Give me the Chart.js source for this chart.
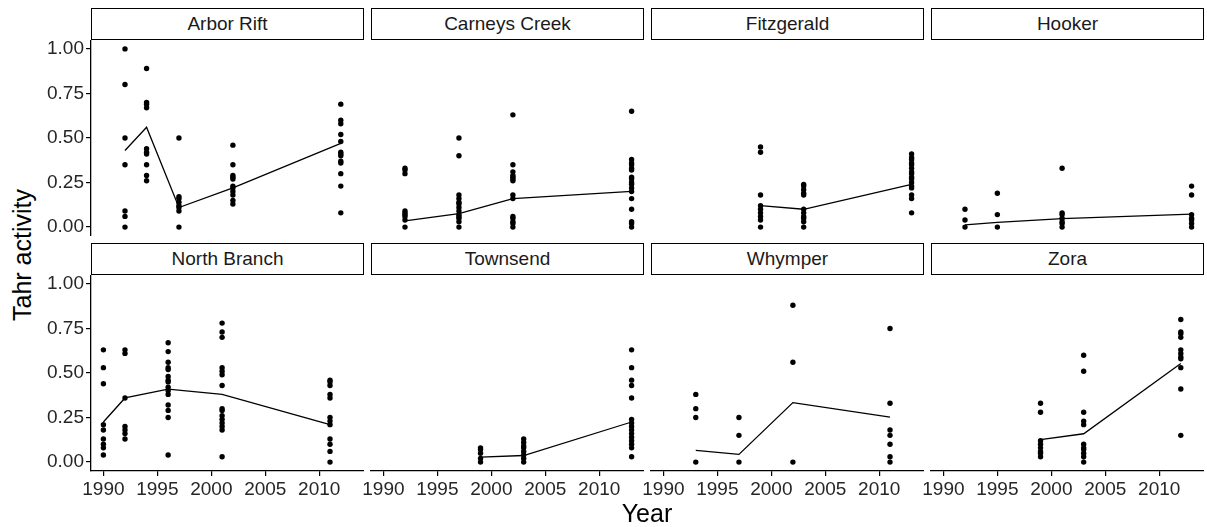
<!DOCTYPE html>
<html>
<head>
<meta charset="utf-8">
<script src="https://cdn.jsdelivr.net/npm/chart.js@4.4.0/dist/chart.umd.min.js"></script>
<style>
  body { margin: 0; background: #fff; }
  #wrap { position: relative; width: 1207px; height: 527px; overflow: hidden; font-family: "Liberation Sans", Arial, sans-serif; }
  #wrap canvas { position: absolute; }
  .strip { position: absolute; box-sizing: border-box; border: 1px solid #000; background: #fff;
           text-align: center; font-size: 19px; line-height: 30px; color: #1a1a1a; }
  .title { position: absolute; font-size: 25px; color: #000; white-space: nowrap; }
</style>
</head>
<body>
<div id="wrap"></div>
<script>
// facet names, in panel order
const siteNames = ["Arbor Rift", "Carneys Creek", "Fitzgerald", "Hooker",
                   "North Branch", "Townsend", "Whymper", "Zora"];
const xTicks = [1990, 1995, 2000, 2005, 2010];
const yTicks = [0, 0.25, 0.5, 0.75, 1];

// survey years, mean activity per year (line) and the single observations (points)
const arborYears = [1992, 1994, 1997, 2002, 2012];
const arborMeans = [0.43, 0.56, 0.11, 0.22, 0.47];
const arborPoints = [
  [1.00, 0.80, 0.50, 0.35, 0.09, 0.06, 0.00],
  [0.89, 0.70, 0.69, 0.67, 0.44, 0.42, 0.41, 0.35, 0.29, 0.26],
  [0.50, 0.17, 0.16, 0.14, 0.12, 0.11, 0.09, 0.00],
  [0.46, 0.35, 0.29, 0.28, 0.27, 0.23, 0.22, 0.20, 0.18, 0.15, 0.13],
  [0.69, 0.60, 0.58, 0.52, 0.48, 0.42, 0.41, 0.40, 0.37, 0.36, 0.30, 0.23, 0.08]
];

const carneysYears = [1992, 1997, 2002, 2013];
const carneysMeans = [0.035, 0.075, 0.16, 0.20];
const carneysPoints = [
  [0.33, 0.32, 0.30, 0.09, 0.08, 0.07, 0.06, 0.04, 0.00],
  [0.50, 0.40, 0.18, 0.16, 0.14, 0.13, 0.11, 0.09, 0.07, 0.06, 0.05, 0.03, 0.00],
  [0.63, 0.35, 0.31, 0.29, 0.28, 0.27, 0.26, 0.18, 0.16, 0.06, 0.05, 0.03, 0.02, 0.00],
  [0.65, 0.38, 0.36, 0.35, 0.33, 0.32, 0.28, 0.27, 0.25, 0.24, 0.22, 0.20, 0.16, 0.10, 0.03, 0.02, 0.00]
];

const fitzYears = [1999, 2003, 2013];
const fitzMeans = [0.12, 0.10, 0.24];
const fitzPoints = [
  [0.45, 0.42, 0.18, 0.12, 0.10, 0.08, 0.06, 0.04, 0.00],
  [0.24, 0.23, 0.21, 0.19, 0.18, 0.10, 0.08, 0.06, 0.05, 0.03, 0.00],
  [0.41, 0.39, 0.38, 0.36, 0.35, 0.33, 0.31, 0.30, 0.28, 0.27, 0.25, 0.23, 0.22, 0.18, 0.16, 0.08]
];

const hookerYears = [1992, 1995, 2001, 2013];
const hookerMeans = [0.013, 0.026, 0.048, 0.073];
const hookerPoints = [
  [0.10, 0.04, 0.00],
  [0.19, 0.07, 0.00],
  [0.33, 0.08, 0.07, 0.05, 0.03, 0.02, 0.00],
  [0.23, 0.18, 0.07, 0.05, 0.04, 0.02, 0.00]
];

const northYears = [1990, 1992, 1996, 2001, 2011];
const northMeans = [0.225, 0.36, 0.41, 0.38, 0.21];
const northPoints = [
  [0.63, 0.53, 0.44, 0.21, 0.18, 0.13, 0.10, 0.08, 0.04],
  [0.63, 0.61, 0.36, 0.20, 0.18, 0.16, 0.13],
  [0.67, 0.62, 0.56, 0.53, 0.52, 0.48, 0.46, 0.45, 0.42, 0.40, 0.38, 0.32, 0.29, 0.25, 0.04],
  [0.78, 0.73, 0.70, 0.53, 0.51, 0.49, 0.43, 0.30, 0.29, 0.26, 0.24, 0.22, 0.20, 0.18, 0.03],
  [0.46, 0.45, 0.43, 0.38, 0.36, 0.25, 0.23, 0.21, 0.13, 0.10, 0.06, 0.00]
];

const townsendYears = [1999, 2003, 2013];
const townsendMeans = [0.028, 0.037, 0.225];
const townsendPoints = [
  [0.08, 0.07, 0.05, 0.02, 0.00],
  [0.13, 0.11, 0.09, 0.08, 0.06, 0.04, 0.02, 0.00],
  [0.63, 0.53, 0.46, 0.43, 0.36, 0.24, 0.22, 0.20, 0.18, 0.16, 0.14, 0.12, 0.10, 0.08, 0.03]
];

const whymperYears = [1993, 1997, 2002, 2011];
const whymperMeans = [0.066, 0.043, 0.334, 0.252];
const whymperPoints = [
  [0.38, 0.30, 0.25, 0.00],
  [0.25, 0.15, 0.00],
  [0.88, 0.56, 0.00],
  [0.75, 0.33, 0.18, 0.15, 0.10, 0.03, 0.00]
];

const zoraYears = [1999, 2003, 2012];
const zoraMeans = [0.126, 0.159, 0.553];
const zoraPoints = [
  [0.33, 0.28, 0.12, 0.10, 0.08, 0.06, 0.05, 0.03],
  [0.60, 0.51, 0.28, 0.23, 0.21, 0.10, 0.08, 0.07, 0.05, 0.03, 0.00],
  [0.80, 0.73, 0.72, 0.70, 0.63, 0.61, 0.59, 0.58, 0.53, 0.41, 0.15]
];

const allYears = [arborYears, carneysYears, fitzYears, hookerYears, northYears, townsendYears, whymperYears, zoraYears];
const allMeans = [arborMeans, carneysMeans, fitzMeans, hookerMeans, northMeans, townsendMeans, whymperMeans, zoraMeans];
const allPoints = [arborPoints, carneysPoints, fitzPoints, hookerPoints, northPoints, townsendPoints, whymperPoints, zoraPoints];

const FONT = "'Liberation Sans', Arial, sans-serif";
const wrap = document.getElementById("wrap");

function addDiv(cls, text, css) {
  const d = document.createElement("div");
  d.className = cls;
  d.textContent = text;
  Object.assign(d.style, css);
  wrap.appendChild(d);
  return d;
}

const axisGrid = { drawOnChartArea: false, drawTicks: true, tickLength: 5, color: "#000", lineWidth: 1.2 };
const axisBorder = { display: true, color: "#000", width: 1.3 };

siteNames.forEach((name, i) => {
  const col = i % 4;
  const row = Math.floor(i / 4);
  const panelLeft = 91 + 280 * col;
  const panelTop = row ? 275 : 40;
  const panelW = 273, panelH = 196;
  const yAxisW = col === 0 ? 50 : 0;
  const padLeft = col === 0 ? 0 : 25;   // room for the 1990 label of inner panels
  const xAxisH = row === 1 ? 32 : 0;

  const canvas = document.createElement("canvas");
  canvas.width = panelW + yAxisW + padLeft;
  canvas.height = panelH + xAxisH;
  canvas.style.left = (panelLeft - yAxisW - padLeft) + "px";
  canvas.style.top = panelTop + "px";
  wrap.appendChild(canvas);

  addDiv("strip", name, { left: panelLeft + "px", top: (row ? 243 : 8) + "px", width: panelW + "px", height: "32px" });

  const years = allYears[i];
  const means = allMeans[i];
  const obs = [];
  allPoints[i].forEach((vals, j) => vals.forEach(v => obs.push({ x: years[j], y: v })));
  const meanLine = years.map((yr, j) => ({ x: yr, y: means[j] }));

  new Chart(canvas.getContext("2d"), {
    type: "scatter",
    data: {
      datasets: [
        { label: "obs", data: obs, pointRadius: 2.7, pointHoverRadius: 2.7, pointBackgroundColor: "#000",
          pointBorderWidth: 0, showLine: false },
        { label: "mean", data: meanLine, showLine: true, pointRadius: 0, pointHoverRadius: 0,
          borderColor: "#000", borderWidth: 1.3 }
      ]
    },
    options: {
      responsive: false,
      animation: false,
      devicePixelRatio: 1,
      layout: { autoPadding: false, padding: { left: padLeft, right: 0, top: 0, bottom: 0 } },
      plugins: { legend: { display: false }, tooltip: { enabled: false } },
      scales: {
        x: {
          type: "linear",
          min: 1988.85,
          max: 2014.15,
          display: row === 1,
          grid: axisGrid,
          border: axisBorder,
          afterBuildTicks: s => { s.ticks = xTicks.map(v => ({ value: v })); },
          afterFit: s => { s.height = xAxisH; s.paddingLeft = 0; s.paddingRight = 0; },
          ticks: { color: "#262626", font: { size: 19, family: FONT }, padding: 2, maxRotation: 0, autoSkip: false,
                   callback: v => String(v) }
        },
        y: {
          min: -0.05,
          max: 1.05,
          display: col === 0,
          grid: axisGrid,
          border: axisBorder,
          afterBuildTicks: s => { s.ticks = yTicks.map(v => ({ value: v })); },
          afterFit: s => { s.width = yAxisW; s.paddingTop = 0; s.paddingBottom = 0; },
          ticks: { color: "#262626", font: { size: 19, family: FONT }, padding: 2,
                   callback: v => Number(v).toFixed(2) }
        }
      }
    }
  });
});

addDiv("title", "Tahr activity", { left: "22px", top: "255px", transform: "translate(-50%, -50%) rotate(-90deg)" });
addDiv("title", "Year", { left: "647px", top: "513px", transform: "translate(-50%, -50%)" });
</script>
</body>
</html>
